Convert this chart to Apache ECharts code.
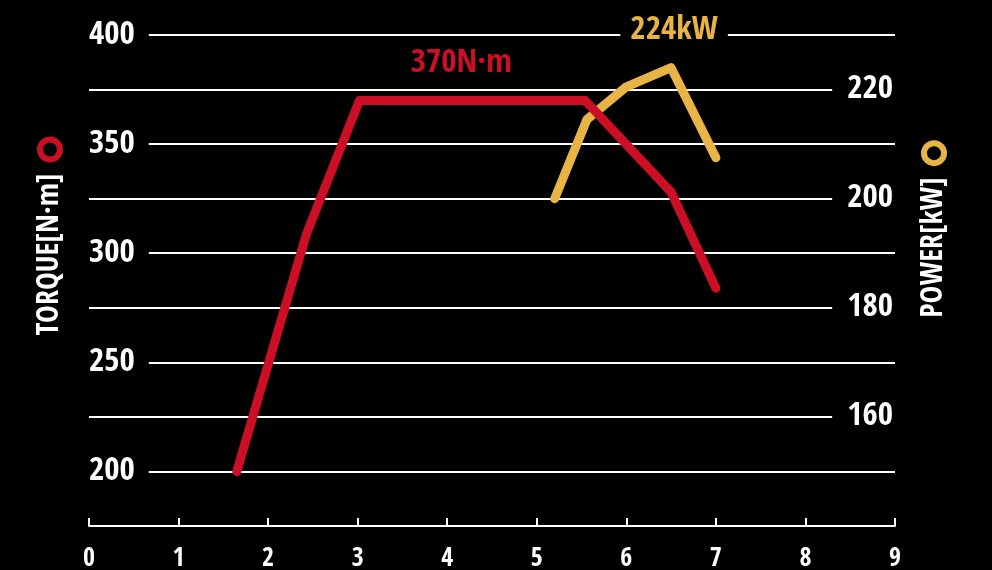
<!DOCTYPE html>
<html>
<head>
<meta charset="utf-8">
<script src="https://cdn.jsdelivr.net/npm/echarts@6/dist/echarts.min.js"></script>
<style>
html,body{margin:0;padding:0;background:#000;}
#chart{width:992px;height:570px;}
</style>
</head>
<body>
<div id="chart"></div>
<script>
// ---- data ----
var torqueRpm = [1.65, 2.43, 3.02, 5.54, 6.5, 7.0];
var torqueNm  = [200, 309, 370, 370, 328, 284];
var powerRpm  = [5.2, 5.56, 6.0, 6.5, 7.0];
var powerKw   = [200, 214.5, 220.5, 224, 207.5];
var xTicks = [0, 1, 2, 3, 4, 5, 6, 7, 8, 9];
var torqueTickLabels = [200, 250, 300, 350, 400];
var powerTickLabels = [160, 180, 200, 220];
var torqueName = 'TORQUE[N·m]';
var powerName = 'POWER[kW]';
var torquePeakText = '370N·m';
var powerPeakText = '224kW';

var RED = '#cd0f26';
var YEL = '#e8b545';
var FONT = "'Open Sans Condensed','Roboto Condensed','DejaVu Sans Condensed',sans-serif";

function pairs(xs, ys){ return xs.map(function(x,i){ return [x, ys[i]]; }); }

var plateauMid = (torqueRpm[2] + torqueRpm[3]) / 2;
var powerMaxIdx = powerKw.indexOf(Math.max.apply(null, powerKw));

var ring = function(color){
  return { width: 20, height: 20, borderRadius: 14, borderWidth: 6, borderColor: color };
};

var chart = echarts.init(document.getElementById('chart'));
chart.setOption({
  backgroundColor: '#000',
  animation: false,
  grid: { left: 89, right: 97, top: 35, bottom: 44, containLabel: false, outerBoundsMode: 'none' },
  xAxis: {
    type: 'value', min: xTicks[0], max: xTicks[xTicks.length-1], interval: 1,
    axisLine: { show: true, lineStyle: { color: '#fff', width: 2 } },
    axisTick: { show: true, inside: true, length: 8, lineStyle: { color: '#fff', width: 2 } },
    splitLine: { show: false },
    axisLabel: { color: '#fff', fontFamily: FONT, fontWeight: 'bold', fontSize: 26, margin: 20,
      formatter: function(v){ return xTicks.indexOf(v) >= 0 ? String(v) : ''; } }
  },
  yAxis: [{
    type: 'value', min: 175, max: 400, interval: 25, position: 'left',
    name: torqueName + '{s|}{c|}',
    nameLocation: 'middle', nameRotate: 90, nameGap: 24,
    nameTextStyle: { color: '#fff', fontFamily: FONT, fontWeight: 'bold', fontSize: 30,
      padding: [0, 0, 0, 86],
      rich: { s: { width: 14 }, c: ring(RED) } },
    axisLine: { show: false }, axisTick: { show: false },
    splitLine: { show: true, lineStyle: { color: '#fff', width: 2 } },
    axisLabel: { inside: true, margin: 0,
      formatter: function(v){ return torqueTickLabels.indexOf(v) >= 0 ? '{a|' + v + '}' : ''; },
      rich: { a: { color: '#fff', fontFamily: FONT, fontWeight: 'bold', fontSize: 33,
        backgroundColor: '#000', padding: [0, 14, 0, 0] } } }
  }, {
    type: 'value', min: 140, max: 230, interval: 10, position: 'right', z: 3,
    name: powerName + '{s|}{c|}',
    nameLocation: 'middle', nameRotate: 90, nameGap: 24,
    nameTextStyle: { color: '#fff', fontFamily: FONT, fontWeight: 'bold', fontSize: 30,
      padding: [0, 0, 0, 100],
      rich: { s: { width: 14 }, c: ring(YEL) } },
    axisLine: { show: false }, axisTick: { show: false },
    splitLine: { show: false },
    axisLabel: { inside: true, margin: 0,
      formatter: function(v){ return powerTickLabels.indexOf(v) >= 0 ? '{a|' + v + '}' : ''; },
      rich: { a: { color: '#fff', fontFamily: FONT, fontWeight: 'bold', fontSize: 33,
        backgroundColor: '#000', padding: [0, 2, 0, 15] } } }
  }],
  series: [{
    name: 'Torque', type: 'line', yAxisIndex: 0, z: 4,
    data: pairs(torqueRpm, torqueNm),
    showSymbol: false, symbol: 'none',
    lineStyle: { color: RED, width: 9, cap: 'round', join: 'round' },
    markPoint: {
      symbol: 'circle', symbolSize: 0, silent: true,
      data: [{ coord: [plateauMid, torqueNm[2]], value: torqueNm[2] }],
      label: { show: true, formatter: torquePeakText, color: RED, fontFamily: FONT, fontWeight: 'bold',
        fontSize: 33, offset: [-11, -37] }
    }
  }, {
    name: 'Power', type: 'line', yAxisIndex: 1, z: 3,
    data: pairs(powerRpm, powerKw),
    showSymbol: false, symbol: 'none',
    lineStyle: { color: YEL, width: 9, cap: 'round', join: 'round' },
    markPoint: {
      symbol: 'circle', symbolSize: 0, silent: true,
      data: [{ coord: [powerRpm[powerMaxIdx], powerKw[powerMaxIdx]], value: powerKw[powerMaxIdx] }],
      label: { show: true, formatter: powerPeakText, color: YEL, fontFamily: FONT, fontWeight: 'bold',
        fontSize: 33, backgroundColor: '#000', padding: [0, 10, 0, 10], offset: [3, -37] }
    }
  }]
});
</script>
</body>
</html>
